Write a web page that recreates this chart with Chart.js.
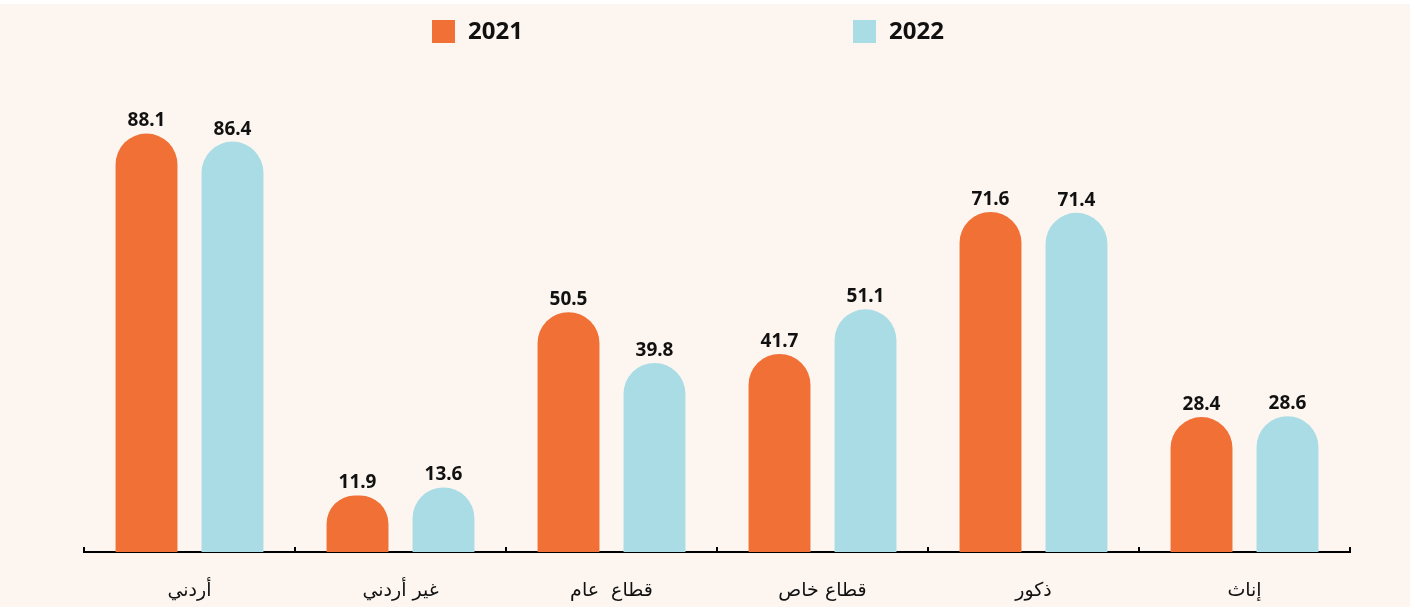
<!DOCTYPE html>
<html>
<head>
<meta charset="utf-8">
<title>Bar Chart</title>
<script src="https://cdn.jsdelivr.net/npm/chart.js"></script>
<style>
    body { margin: 0; background: #ffffff; }
    #wrap { width: 1410px; height: 603px; margin-top: 4px; background: #fdf6f0; }
</style>
</head>
<body>
<div id="wrap">
    <canvas id="barChart" width="1410" height="603"></canvas>
</div>
<script>
    var categories = ['أردني', 'غير أردني', 'قطاع  عام', 'قطاع خاص', 'ذكور', 'إناث'];
    var seriesNames = ['2021', '2022'];
    var values2021 = [88.1, 11.9, 50.5, 41.7, 71.6, 28.4];
    var values2022 = [86.4, 13.6, 39.8, 51.1, 71.4, 28.6];
    var barColors = ['#f07036', '#aadce5'];

    // value labels above each bar
    var valueLabels = {
        id: 'valueLabels',
        afterDatasetsDraw: function (chart) {
            var ctx = chart.ctx;
            ctx.save();
            ctx.font = 'bold 19px "Noto Sans"';
            ctx.fillStyle = '#111';
            ctx.textAlign = 'center';
            ctx.textBaseline = 'bottom';
            chart.data.datasets.forEach(function (ds, i) {
                chart.getDatasetMeta(i).data.forEach(function (bar, j) {
                    ctx.fillText(ds.data[j].toFixed(1), bar.x, bar.y - 3);
                });
            });
            ctx.restore();
        }
    };

    // small upward ticks between the categories
    var axisTicks = {
        id: 'axisTicks',
        afterDraw: function (chart) {
            var x = chart.scales.x;
            var ctx = chart.ctx;
            var y0 = chart.chartArea.bottom;
            ctx.save();
            ctx.strokeStyle = '#000';
            ctx.lineWidth = 2;
            for (var i = 0; i <= categories.length; i++) {
                var px = Math.round(x.getPixelForValue(i - 0.5));
                ctx.beginPath();
                ctx.moveTo(px, y0);
                ctx.lineTo(px, y0 - 5);
                ctx.stroke();
            }
            ctx.restore();
        }
    };

    // legend spread across the top
    var legendPos = [432, 853];
    var topLegend = {
        id: 'topLegend',
        afterDraw: function (chart) {
            var ctx = chart.ctx;
            ctx.save();
            ctx.font = 'bold 24px "Noto Sans"';
            ctx.textBaseline = 'middle';
            ctx.textAlign = 'left';
            chart.data.datasets.forEach(function (ds, i) {
                ctx.fillStyle = ds.backgroundColor;
                ctx.fillRect(legendPos[i], 16, 23, 23);
                ctx.fillStyle = '#111';
                ctx.fillText(ds.label, legendPos[i] + 36, 28);
            });
            ctx.restore();
        }
    };

    new Chart('barChart', {
        type: 'bar',
        data: {
            labels: categories,
            datasets: [{
                label: seriesNames[0],
                data: values2021,
                backgroundColor: barColors[0]
            }, {
                label: seriesNames[1],
                data: values2022,
                backgroundColor: barColors[1]
            }]
        },
        options: {
            responsive: false,
            animation: false,
            layout: { padding: { top: 73, left: 84, right: 60, bottom: 0 } },
            datasets: {
                bar: {
                    categoryPercentage: 0.815,
                    barPercentage: 0.72,
                    borderRadius: 31,
                    borderSkipped: 'start'
                }
            },
            plugins: {
                legend: { display: false },
                tooltip: { enabled: false }
            },
            scales: {
                x: {
                    grid: { display: false },
                    border: { display: true, color: '#000', width: 2 },
                    ticks: {
                        color: '#111',
                        padding: 20,
                        font: { size: 19, family: '"DejaVu Sans"' }
                    },
                    afterFit: function (s) { s.height = 55; }
                },
                y: {
                    display: false,
                    min: 0,
                    max: 100
                }
            }
        },
        plugins: [valueLabels, axisTicks, topLegend]
    });
</script>
</body>
</html>
